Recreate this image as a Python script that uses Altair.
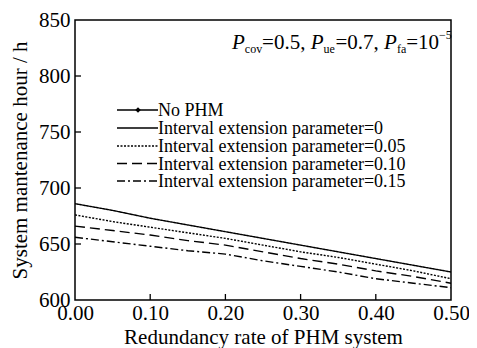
import altair as alt
import pandas as pd

# ---- data ----
x_vals = [0.00, 0.05, 0.10, 0.15, 0.20, 0.25, 0.30, 0.35, 0.40, 0.45, 0.50]
series_names = [
    "Interval extension parameter=0",
    "Interval extension parameter=0.05",
    "Interval extension parameter=0.10",
    "Interval extension parameter=0.15",
]
y_p000 = [686, 680, 673, 667, 661, 655, 649, 643, 637, 631, 625]
y_p005 = [676, 670, 665, 660, 655, 649, 643, 638, 632, 626, 619]
y_p010 = [666, 662, 658, 653, 649, 643, 637, 632, 626, 621, 615]
y_p015 = [656, 652, 648, 644, 641, 635, 630, 625, 619, 615, 611]
legend_labels = ["No PHM"] + series_names
x_tick_vals = [0.1, 0.2, 0.3, 0.4]
y_tick_vals = [650, 700, 750, 800]
x_label_vals = [0.0, 0.1, 0.2, 0.3, 0.4, 0.5]
y_label_vals = [600, 650, 700, 750, 800, 850]
annot_pieces = ["P", "cov", "=0.5, ", "P", "ue", "=0.7, ", "P", "fa", "=10", "\u22125"]

FONT = "Liberation Serif, Times New Roman, DejaVu Serif, serif"
W, H = 376, 280

rows = []
for name, ys in zip(series_names, [y_p000, y_p005, y_p010, y_p015]):
    for xv, yv in zip(x_vals, ys):
        rows.append({"x": xv, "y": yv, "series": name})
df = pd.DataFrame(rows)

xscale = alt.Scale(domain=[0, 0.5], nice=False, zero=False)
yscale = alt.Scale(domain=[600, 850], nice=False, zero=False)
dashes = [[1, 0], [2, 1.5], [10, 5], [8, 3, 2, 3]]

lines = alt.Chart(df).mark_line(color="black", strokeWidth=1.4, clip=True).encode(
    x=alt.X("x:Q", scale=xscale,
            axis=alt.Axis(values=x_label_vals, format=".2f", title="Redundancy rate of PHM system",
                          ticks=False, domain=False, grid=False, labelFont=FONT, titleFont=FONT,
                          labelFontSize=21, titleFontSize=21, labelColor="black", titleColor="black",
                          titleFontWeight="normal", labelPadding=2, titlePadding=3,
                          labelFlush=False, labelOverlap=False)),
    y=alt.Y("y:Q", scale=yscale,
            axis=alt.Axis(values=y_label_vals, format="d", title="System mantenance hour / h",
                          ticks=False, domain=False, grid=False, labelFont=FONT, titleFont=FONT,
                          labelFontSize=21, titleFontSize=21, labelColor="black", titleColor="black",
                          titleFontWeight="normal", labelPadding=5, titlePadding=8,
                          labelFlush=False, labelOverlap=False)),
    strokeDash=alt.StrokeDash("series:N", scale=alt.Scale(domain=series_names, range=dashes), legend=None),
    detail="series:N",
)

xt = alt.Chart(pd.DataFrame({"t": x_tick_vals})).mark_rule(color="black", strokeWidth=1.3).encode(
    x=alt.X("t:Q", scale=xscale), y=alt.value(H), y2=alt.value(H - 6))
yt = alt.Chart(pd.DataFrame({"t": y_tick_vals})).mark_rule(color="black", strokeWidth=1.3).encode(
    y=alt.Y("t:Q", scale=yscale), x=alt.value(0), x2=alt.value(6))

layers = [lines, xt, yt]

# ---- manual legend ----
leg_y = [90, 108, 126, 143.5, 161]
base = alt.Chart(pd.DataFrame({"a": [0]}))
for i, lab in enumerate(legend_labels):
    yv = leg_y[i]
    dash = [1, 0] if i == 0 else dashes[i - 1]
    layers.append(base.mark_rule(color="black", strokeWidth=1.4, strokeDash=dash).encode(
        x=alt.value(42), x2=alt.value(83), y=alt.value(yv)))
    layers.append(base.mark_text(align="left", baseline="middle", font=FONT, fontSize=18,
                                 color="black", text=lab).encode(x=alt.value(83), y=alt.value(yv + 1)))
    if i == 0:
        layers.append(base.mark_point(shape="diamond", filled=True, color="black", size=30, opacity=1).encode(
            x=alt.value(63), y=alt.value(yv)))

# ---- annotation P_cov=0.5, P_ue=0.7, P_fa=10^-5 ----
widths = [12.8, 17.3, 48.6, 12.8, 12.0, 48.6, 12.8, 9.3, 32.8, 12.8]
kinds = ["main_it", "sub", "main", "main_it", "sub", "main", "main_it", "sub", "main", "sup"]
xpos = 157.0
for piece, w, k in zip(annot_pieces, widths, kinds):
    if k == "main_it":
        mk = base.mark_text(align="left", baseline="alphabetic", font=FONT, fontSize=21,
                            fontStyle="italic", color="black", text=piece)
        yv = 29
    elif k == "main":
        mk = base.mark_text(align="left", baseline="alphabetic", font=FONT, fontSize=21,
                            color="black", text=piece)
        yv = 29
    elif k == "sub":
        mk = base.mark_text(align="left", baseline="alphabetic", font=FONT, fontSize=12,
                            color="black", text=piece)
        yv = 33
    else:
        mk = base.mark_text(align="left", baseline="alphabetic", font=FONT, fontSize=12,
                            color="black", text=piece)
        yv = 19
    layers.append(mk.encode(x=alt.value(xpos), y=alt.value(yv)))
    xpos += w

chart = alt.layer(*layers).properties(
    width=W, height=H,
    autosize=alt.AutoSizeParams(type="none"),
    padding={"left": 67, "top": 12, "right": 18, "bottom": 48},
).configure_view(stroke="black", strokeWidth=1.5).configure_axis(grid=False)

chart.save("out.html", embed_options={"renderer": "svg", "actions": False})
